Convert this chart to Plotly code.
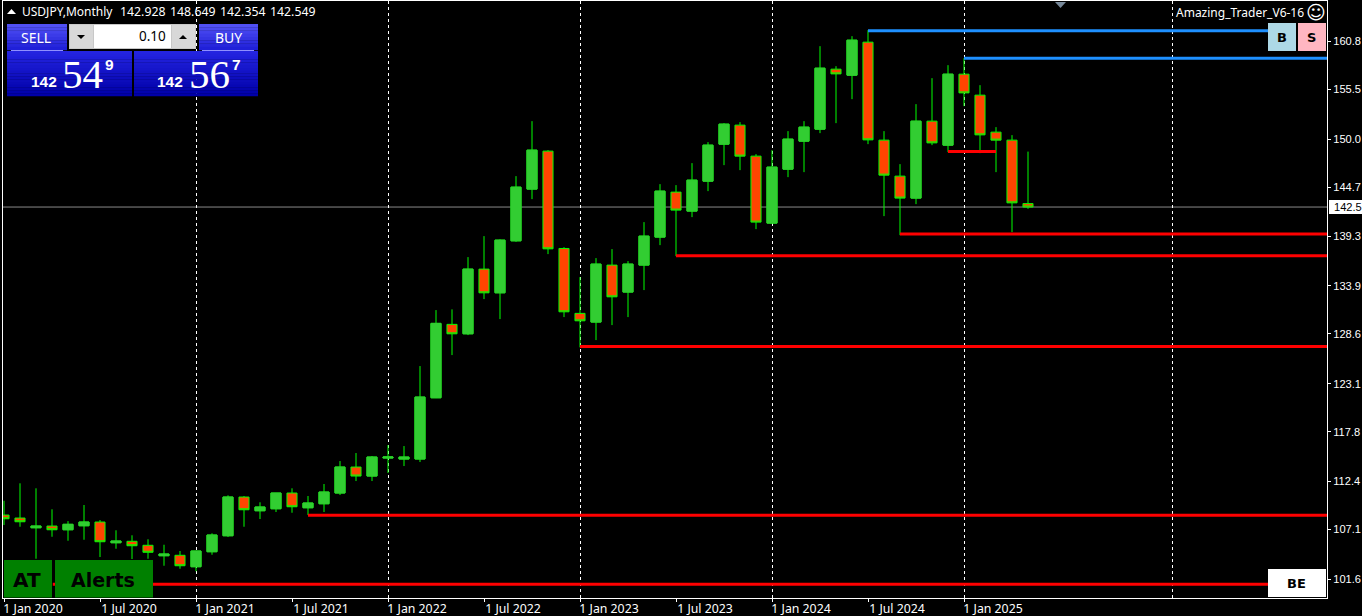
import plotly.graph_objects as go

# ---- data (USDJPY monthly, Jan 2020 onward) ----
opens = [108.66,108.33,107.26,107.45,107.04,107.48,107.89,105.61,105.77,105.33,104.18,104.23,102.97,104.62,106.38,110.64,109.13,109.35,111.08,109.46,109.90,111.08,113.94,112.95,114.93,114.82,114.82,121.56,129.64,128.60,135.72,133.11,138.83,144.52,148.70,137.99,130.85,129.89,136.16,133.19,136.16,139.24,144.19,142.10,145.40,149.47,151.56,148.15,140.78,146.72,149.80,151.12,157.72,157.06,160.69,149.91,145.95,143.53,152.00,149.36,157.17,154.86,150.79,149.91,142.928]
closes = [108.25,107.92,107.45,107.04,107.64,107.89,105.72,105.80,105.28,104.56,104.37,103.08,104.70,106.46,110.64,109.24,109.54,111.08,109.57,109.98,111.19,113.94,112.95,115.04,115.04,115.04,121.64,129.75,128.60,135.72,133.11,138.91,144.74,148.81,137.95,131.02,130.03,136.27,132.67,136.27,139.35,144.30,142.21,145.51,149.36,151.67,148.15,140.89,146.94,150.02,151.34,157.83,157.20,160.91,149.94,146.06,143.53,152.00,149.61,157.17,155.11,150.49,149.91,143.01,142.549]
highs = [110.23,112.15,111.60,109.29,107.99,109.76,108.11,106.98,106.43,105.99,105.39,104.70,104.70,106.65,110.83,110.75,110.06,111.08,111.60,110.75,112.07,114.60,115.48,115.15,116.36,116.25,125.05,131.21,131.29,137.04,139.35,138.99,145.95,152.00,148.81,138.14,134.84,136.93,137.92,136.60,140.89,145.07,144.96,147.38,149.69,151.78,151.89,148.37,148.81,150.90,152.00,160.25,158.05,161.35,162.01,150.90,147.27,153.87,156.73,158.16,158.93,155.96,151.34,150.46,148.649]
lows = [107.56,107.37,103.85,106.27,105.83,105.94,104.04,104.95,103.82,103.85,103.08,102.75,102.47,104.29,106.24,107.37,108.22,108.99,108.91,108.66,108.99,110.86,112.40,112.40,113.28,114.05,114.49,121.53,126.26,128.46,132.42,130.22,138.72,143.42,137.37,130.44,127.11,127.91,129.56,130.44,133.41,138.36,137.15,141.44,144.30,147.16,146.61,140.12,140.78,145.84,146.39,150.68,151.78,154.42,149.47,141.55,139.46,142.87,149.36,148.59,153.65,148.48,146.39,139.79,142.354]

x_tick_index = [0,6,12,18,24,30,36,42,48,54,60]
x_tick_labels = ["1 Jan 2020","1 Jul 2020","1 Jan 2021","1 Jul 2021","1 Jan 2022","1 Jul 2022",
                 "1 Jan 2023","1 Jul 2023","1 Jan 2024","1 Jul 2024","1 Jan 2025"]
grid_index = [12,24,36,48,60,73]
y_ticks = [160.8,155.5,150.0,144.7,139.3,133.9,128.6,123.1,117.8,112.4,107.1,101.6]

# level lines: price, first bar, last bar
blue_levels = [(161.95,54,79.05),(158.93,60,82.72)]
red_levels = [(139.57,56,82.72),(137.20,42,82.72),(127.19,36,82.72),(108.63,19,82.72),
              (101.04,3.05,79.05),(148.67,59,62)]

W, H = 1362, 616
L, R, T, B = 3, 35, 1, 18
XR = [(3.0-4)/16, (1327-4)/16]
YR = [99.53, 165.22]
def px(x): return (x-L)/(W-L-R)
def py(y): return 1-(y-T)/(H-T-B)

x = list(range(len(opens)))
GREEN, ORANGE, LIME = "#32CD32", "#FF4500", "#00FF00"

fig = go.Figure()
fig.add_trace(go.Candlestick(x=x, open=opens, high=highs, low=lows, close=closes, whiskerwidth=0,
    increasing=dict(line=dict(color=LIME,width=1), fillcolor=GREEN),
    decreasing=dict(line=dict(color=LIME,width=1), fillcolor=ORANGE), hoverinfo="skip"))
# the rising bodies have a border of their own colour, the wicks stay lime
up = [i for i in x if closes[i] >= opens[i]]
fig.add_trace(go.Candlestick(x=up, open=[opens[i] for i in up], close=[closes[i] for i in up],
    high=[closes[i] for i in up], low=[opens[i] for i in up], whiskerwidth=0,
    increasing=dict(line=dict(color=GREEN,width=1), fillcolor=GREEN), hoverinfo="skip"))
for p,a,b in blue_levels:
    fig.add_trace(go.Scatter(x=[a,b], y=[p,p], mode="lines", line=dict(color="#1E90FF",width=3), hoverinfo="skip"))
for p,a,b in red_levels:
    fig.add_trace(go.Scatter(x=[a,b], y=[p,p], mode="lines", line=dict(color="#FF0000",width=3), hoverinfo="skip"))

shapes, ann = [], []
def rect(x0,y0,x1,y1,fill,line=None,lw=1):
    shapes.append(dict(type="rect",xref="paper",yref="paper",x0=px(x0),x1=px(x1),y0=py(y0),y1=py(y1),
                       fillcolor=fill,line=dict(color=line or fill,width=lw if line else 0)))
def tri(x0,x1,y_base,y_tip,fill):
    xm=(x0+x1)/2
    shapes.append(dict(type="path",xref="paper",yref="paper",
        path=f"M {px(x0)} {py(y_base)} L {px(x1)} {py(y_base)} L {px(xm)} {py(y_tip)} Z",fillcolor=fill,line=dict(width=0)))
def text(t,x,y,size,color="white",anchor="center",fam="Noto Sans",bold=False):
    ann.append(dict(text=f"<b>{t}</b>" if bold else t,xref="paper",yref="paper",x=px(x),y=py(y),xanchor=anchor,yanchor="middle",
        showarrow=False,borderpad=0,borderwidth=0,font=dict(size=size,color=color,family=fam)))
def lerp(c0,c1,f): return "#%02x%02x%02x"%tuple(round(a+(b-a)*f) for a,b in zip(c0,c1))
def grad(x0,y0,x1,y1,c0,c1,n=14):
    for k in range(n):
        rect(x0,y0+(y1-y0)*k/n,x1,y0+(y1-y0)*(k+1)/n+0.3,lerp(c0,c1,k/(n-1)))

# current price line sits under the candles
shapes.append(dict(type="line",xref="paper",yref="y",x0=0,x1=1,y0=closes[-1],y1=closes[-1],
                   line=dict(color="#8a8a8a",width=1),layer="below"))

# one-click trading panel
for x0,x1 in ((7,67),(199,258)):
    grad(x0,24,x1,50,(0x50,0x50,0xF4),(0x20,0x20,0xD8),8)
for x0,x1 in ((7,132),(134,258)):
    grad(x0,51,x1,96,(0x24,0x24,0xE0),(0x00,0x00,0xA8),16)
rect(11,50,63,51,"#9090FF"); rect(202,50,254,51,"#9090FF")
rect(69,24,196,49,"#C8C8C8")
rect(94,25,171,48,"#FFFFFF")
rect(70,25,93,48,"#D8D8D8"); rect(172,25,195,48,"#D8D8D8")
tri(77,85,35,39,"#000000"); tri(179,187,39,35,"#000000")
text("SELL",36,37,14); text("BUY",228,37,14)
text("0.10",166,36,13.5,color="#000000",anchor="right")
for t1,t2,t3,x1,x2,x3 in (("142","54","9",44,82,109.5),("142","56","7",170,209,236.5)):
    text(t1,x1,81,15.5,bold=True,fam="Liberation Sans")
    text(t2,x2,74,41,fam="Liberation Sans Narrow")
    text(t3,x3,64,15.5,bold=True,fam="Liberation Sans")

# header
tri(7,16,14,9,"#FFFFFF")
text("USDJPY,Monthly",22,11.5,12,anchor="left")
text("142.928",119.5,11.5,12.3,anchor="left"); text("148.649",169.5,11.5,12.3,anchor="left")
text("142.354",219.5,11.5,12.3,anchor="left"); text("142.549",269.5,11.5,12.3,anchor="left")
tri(1055,1066,2,8,"#778899")
text("Amazing_Trader_V6-16",1304,13,12,anchor="right")
text("☺",1315.5,12.5,19,fam="DejaVu Sans")

# buttons
rect(1268,23,1296,51,"#ADD8E6"); text("B",1281.5,37.5,13,color="#000000",bold=True,fam="DejaVu Sans")
rect(1298,23,1326,51,"#FFB6C1"); text("S",1311,37.5,13,color="#000000",bold=True,fam="DejaVu Sans")
rect(1268,569,1326,597,"#FFFFFF"); text("BE",1296,583,13,color="#000000",bold=True,fam="DejaVu Sans")
rect(4,560,52,597.5,"#008000"); text("AT",27,580,20,color="#000000",bold=True,fam="DejaVu Sans")
rect(55,560,153,597.5,"#008000"); text("Alerts",103,580,19,color="#000000",bold=True,fam="DejaVu Sans")

# current price tag
rect(1329,200,1362,214,"#FFFFFF"); text("142.5",1333.5,207.5,11.1,color="#000000",anchor="left",fam="Liberation Sans")

fig.update_layout(
    width=W,height=H,margin=dict(l=L,r=R,t=T,b=B,pad=0,autoexpand=False),autosize=False,boxgap=0.1,
    paper_bgcolor="#000000",plot_bgcolor="#000000",showlegend=False,shapes=shapes,annotations=ann,
    font=dict(family="Noto Sans",color="#FFFFFF",size=12),
    xaxis=dict(type="linear",range=XR,automargin=False,rangeslider=dict(visible=False),tickmode="array",tickvals=x_tick_index,
        ticktext=x_tick_labels,ticks="outside",ticklen=3,tickcolor="#FFFFFF",tickwidth=1,showgrid=False,zeroline=False,
        showline=True,linecolor="#FFFFFF",linewidth=1,mirror=True,ticklabelshift=29,ticklabelstandoff=-4,
        tickfont=dict(size=12.3,color="#FFFFFF",family="Noto Sans"),
        minor=dict(tickmode="array",tickvals=grid_index,showgrid=True,gridcolor="#FFFFFF",griddash="3px,3px",gridwidth=1,ticks="")),
    yaxis=dict(range=YR,side="right",tickmode="array",tickvals=y_ticks,ticktext=[f"{v:.1f}" for v in y_ticks],
        ticks="outside",ticklen=3,tickcolor="#FFFFFF",tickwidth=1,showgrid=False,zeroline=False,
        showline=True,linecolor="#FFFFFF",linewidth=1,mirror=True,automargin=False,ticklabelstandoff=0,
        tickfont=dict(size=11.1,color="#FFFFFF",family="Liberation Sans")),
)
fig.write_html("out.html",config=dict(displayModeBar=False),
    post_script="document.body.style.margin='0';document.documentElement.style.overflow='hidden';document.body.style.background='#000';")
